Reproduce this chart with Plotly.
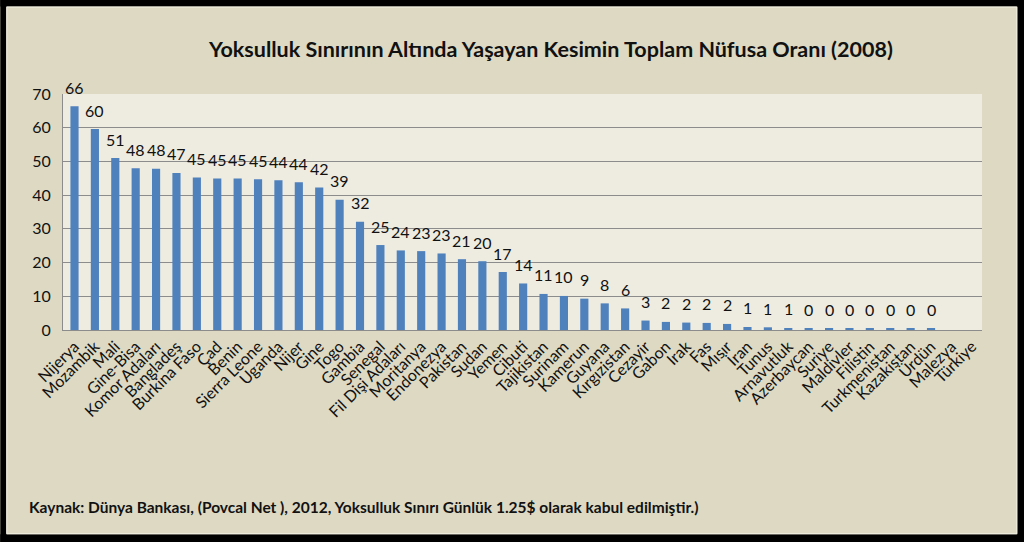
import plotly.graph_objects as go

countries = ["Nijerya", "Mozambik", "Mali", "Gine-Bisa", "Komor Adaları", "Bangladeş",
             "Burkina Faso", "Çad", "Benin", "Sierra Leone", "Uganda", "Nijer", "Gine",
             "Togo", "Gambia", "Senegal", "Fil Dişi Adaları", "Moritanya", "Endonezya",
             "Pakistan", "Sudan", "Yemen", "Cibuti", "Tajikistan", "Surinam", "Kamerun",
             "Guyana", "Kırgızistan", "Cezayir", "Gabon", "Irak", "Fas", "Mısır", "İran",
             "Tunus", "Arnavutluk", "Azerbaycan", "Suriye", "Maldivler", "Filistin",
             "Turkmenistan", "Kazakistan", "Ürdün", "Malezya", "Türkiye"]
values = [66.4, 59.6, 51.0, 48.0, 47.8, 46.6, 45.2, 44.9, 44.9, 44.7, 44.4, 43.8, 42.3,
          38.6, 32.1, 25.2, 23.6, 23.4, 22.7, 21.0, 20.4, 17.2, 13.8, 10.7, 10.1, 9.3,
          7.9, 6.4, 2.8, 2.4, 2.2, 2.1, 1.8, 0.9, 0.8, 0.6, 0.3, 0.3, 0.3, 0.3, 0.3,
          0.3, 0.3, None, None]
y_ticks = [0, 10, 20, 30, 40, 50, 60, 70]

title = "Yoksulluk Sınırının Altında Yaşayan Kesimin Toplam Nüfusa Oranı (2008)"
source = "Kaynak: Dünya Bankası, (Povcal Net ), 2012, Yoksulluk Sınırı Günlük 1.25$ olarak kabul edilmiştir.)"

W, H = 1024, 542
L, R, T, B = 62.7, 981.7, 94.3, 330.0
FONT = "Lato"

fig = go.Figure()
fig.add_trace(go.Bar(x=countries, y=values, marker=dict(color="#4F81BD", line=dict(width=0)),
                     hoverinfo="x+y"))

ann = []
for c, v in zip(countries, values):
    if v is None:
        continue
    ann.append(dict(x=c, y=v, xref="x", yref="y", text=str(int(round(v))), showarrow=False,
                    yanchor="middle", xanchor="center", yshift=19,
                    font=dict(family=FONT, size=16, color="#111111")))

pw, ph = R - L, B - T
def px(x):
    return (x - L) / pw
def py(y):
    return (B - y) / ph

ann.append(dict(x=px(550), y=py(49), xref="paper", yref="paper", text="<b>" + title + "</b>",
                showarrow=False, xanchor="center", yanchor="middle",
                font=dict(family=FONT, size=21.5, color="#111111")))
ann.append(dict(x=px(27), y=py(507), xref="paper", yref="paper", text="<b>" + source + "</b>",
                showarrow=False, xanchor="left", yanchor="middle",
                font=dict(family=FONT, size=15.5, color="#111111")))

shapes = []
# black frame
for (x0, y0, x1, y1) in [(0, 0, 6, H), (1017, 0, W, H), (0, 0, W, 7), (0, 534, W, H)]:
    shapes.append(dict(type="rect", xref="paper", yref="paper", x0=px(x0), x1=px(x1),
                       y0=py(y1), y1=py(y0), fillcolor="black", line=dict(width=0), layer="above"))
# light inner edge
shapes.append(dict(type="rect", xref="paper", yref="paper", x0=px(6.5), x1=px(1016.5),
                   y0=py(533.5), y1=py(7.5), fillcolor="rgba(0,0,0,0)",
                   line=dict(color="#F2F0E4", width=1), layer="above"))

fig.update_layout(
    width=W, height=H,
    margin=dict(l=L, r=W - R, t=T, b=H - B, pad=0),
    paper_bgcolor="#DDD9C3",
    plot_bgcolor="#EEECE1",
    bargap=0.6,
    showlegend=False,
    annotations=ann,
    shapes=shapes,
    xaxis=dict(type="category", tickangle=-45, tickfont=dict(family=FONT, size=16, color="#111111"),
               showgrid=False, showline=True, linecolor="#8C8C8C", linewidth=1, ticks="",
               fixedrange=True),
    yaxis=dict(range=[0, 70], tickvals=y_ticks, tickfont=dict(family=FONT, size=16, color="#111111"),
               showgrid=True, gridcolor="#8C8C8C", gridwidth=1, zeroline=False,
               showline=True, linecolor="#8C8C8C", ticks="", ticklen=0, ticklabelstandoff=8,
               fixedrange=True),
)

fig.write_html("out.html")
